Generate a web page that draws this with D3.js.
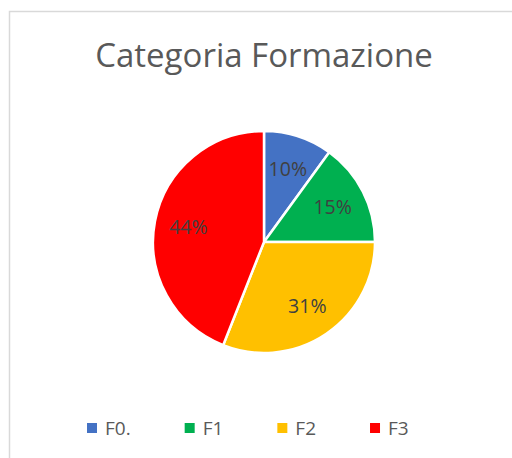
<!DOCTYPE html>
<html>
<head>
<meta charset="utf-8">
<script src="https://cdn.jsdelivr.net/npm/d3@7"></script>
<style>
  body { margin: 0; background: #fff; }
  svg { display: block; }
</style>
</head>
<body>
<div id="chart"></div>
<script>
// data
var categories = ["F0.", "F1", "F2", "F3"],
    values = [10, 15, 31, 44],
    colors = ["#4472C4", "#00B050", "#FFC000", "#FF0000"];

var title = "Categoria Formazione";

var viewBox = {width: 512, height: 458},
    center = {x: 264, y: 242},
    radius = 111,
    labelRadius = 77;

var svg = d3.select("#chart")
  .append("svg")
  .attr("width", viewBox.width)
  .attr("height", viewBox.height);

// chart area border (runs off the right/bottom edge)
svg.append("rect")
  .attr("x", 9.5)
  .attr("y", 11.5)
  .attr("width", 520)
  .attr("height", 470)
  .attr("fill", "#fff")
  .attr("stroke", "#D9D9D9")
  .attr("stroke-width", 1.5);

svg.append("text")
  .attr("x", 264)
  .attr("y", 67)
  .attr("text-anchor", "middle")
  .style("font-family", "'Open Sans', sans-serif")
  .style("font-size", "33px")
  .style("fill", "#595959")
  .text(title);

var data = categories.map(function(c, i){ return {cat: c, value: values[i], color: colors[i]}; });

var pie = d3.pie()
  .sort(null)
  .value(function(d){ return d.value; });

var arc = d3.arc()
  .innerRadius(0)
  .outerRadius(radius);

var labelArc = d3.arc()
  .innerRadius(labelRadius)
  .outerRadius(labelRadius);

var g = svg.append("g")
  .attr("transform", "translate(" + center.x + "," + center.y + ")");

var arcs = pie(data);

g.selectAll(".slice")
  .data(arcs)
  .enter().append("path")
  .attr("class", "slice")
  .attr("d", arc)
  .attr("fill", function(d){ return d.data.color; })
  .attr("stroke", "#fff")
  .attr("stroke-width", 2.5)
  .attr("stroke-linejoin", "round");

var total = d3.sum(values);
g.selectAll(".lbl")
  .data(arcs)
  .enter().append("text")
  .attr("class", "lbl")
  .attr("transform", function(d){ return "translate(" + labelArc.centroid(d) + ")"; })
  .attr("text-anchor", "middle")
  .attr("dy", "0.35em")
  .style("font-family", "'Open Sans', sans-serif")
  .style("font-size", "19.5px")
  .style("fill", "#404040")
  .text(function(d){ return Math.round(d.data.value / total * 100) + "%"; });

// legend, laid out item after item
var legend = svg.append("g").attr("class", "legend");
var lx = 87, ly = 428;
data.forEach(function(d){
  var item = legend.append("g").attr("transform", "translate(" + lx + "," + ly + ")");
  item.append("rect")
    .attr("x", 0)
    .attr("y", -5)
    .attr("width", 10)
    .attr("height", 10)
    .attr("fill", d.color);
  var t = item.append("text")
    .attr("x", 18)
    .attr("dy", "0.35em")
    .style("font-family", "'Open Sans', sans-serif")
    .style("font-size", "19px")
    .style("fill", "#595959")
    .text(d.cat);
  lx += 18 + t.node().getComputedTextLength() + 54;
});
</script>
</body>
</html>
